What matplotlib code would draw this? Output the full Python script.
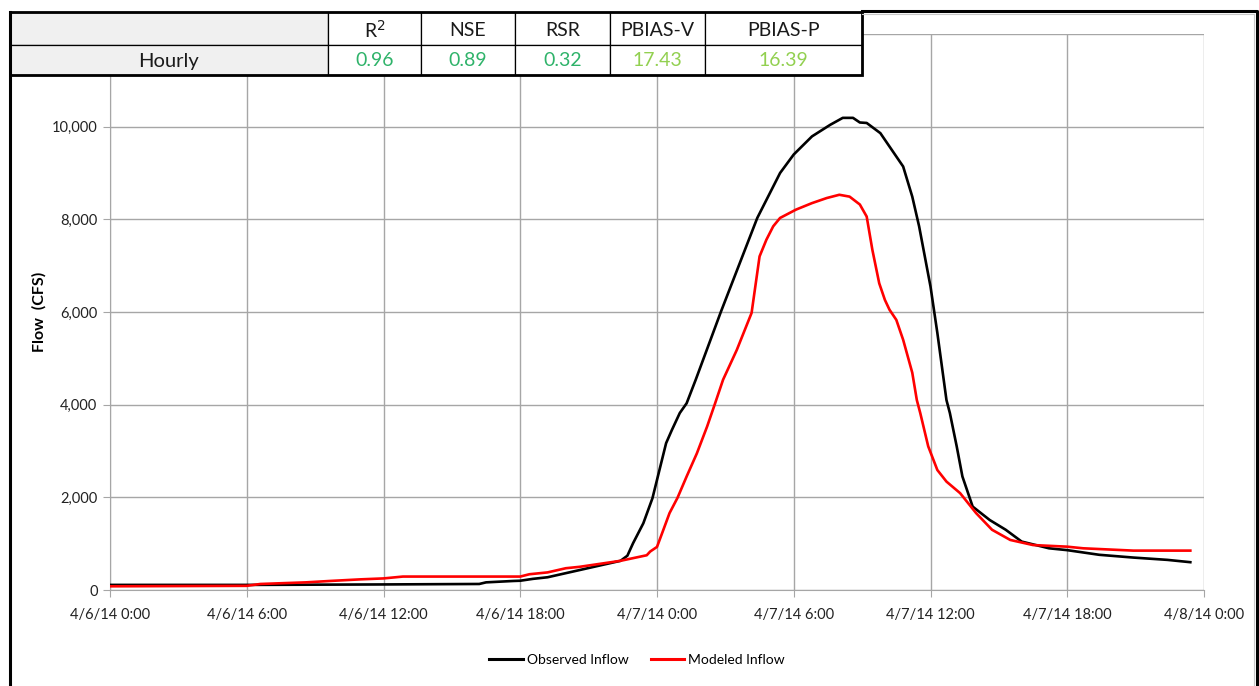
from datetime import datetime, timedelta

import matplotlib
matplotlib.use("Agg")
import matplotlib.pyplot as plt
import matplotlib.dates as mdates
from matplotlib.lines import Line2D
from matplotlib.patches import Rectangle


plt.rcParams["font.family"] = ["Lato", "DejaVu Sans"]

# --------------------------------------------------
# Hydrograph data (hours after 4/6/14 0:00, flow in cfs)
# --------------------------------------------------
obs_hours = [0, 6, 12, 16.2, 16.5, 17.7, 18.0, 18.55, 19.2, 20.6, 22.4,
             22.7, 22.95, 23.4, 23.8, 24.4, 24.65, 25.0, 25.3, 25.7, 26.8,
             28.4, 29.4, 30.0, 30.8, 31.6, 32.15, 32.6, 32.9, 33.2, 33.8,
             34.3, 34.8, 35.2, 35.5, 36.0, 36.3, 36.7, 36.85, 37.15, 37.4,
             37.85, 38.6, 39.3, 40.0, 41.2, 42.0, 43.4, 44.9, 46.4, 47.4]
obs_flow = [110, 110, 120, 130, 165, 195, 200, 240, 275, 430, 630,
            740, 1010, 1440, 1980, 3170, 3450, 3820, 4030, 4540, 6000,
            8030, 9000, 9400, 9790, 10040, 10190, 10190, 10090, 10080, 9860,
            9500, 9140, 8490, 7850, 6550, 5550, 4100, 3820, 3100, 2450,
            1800, 1510, 1300, 1045, 900, 860, 760, 700, 650, 600]

mod_hours = [0, 6, 6.6, 8.6, 9.65, 11.0, 12.0, 12.85, 18.0, 18.4, 19.2,
             20.0, 20.6, 22.4, 23.55, 23.7, 24.0, 24.25, 24.55, 24.9, 25.3,
             25.75, 26.2, 26.55, 26.9, 27.5, 28.15, 28.5, 28.8, 29.1, 29.4,
             30.1, 30.8, 31.45, 32.0, 32.45, 32.9, 33.2, 33.45, 33.75, 34.0,
             34.2, 34.5, 34.8, 35.2, 35.4, 35.55, 35.9, 36.3, 36.7, 37.3,
             38.0, 38.7, 39.5, 40.5, 42.0, 42.7, 44.9, 47.4]
mod_flow = [80, 90, 130, 165, 195, 230, 250, 290, 290, 340, 380,
            470, 500, 630, 750, 830, 930, 1260, 1660, 1990, 2450,
            2950, 3530, 4030, 4540, 5180, 5980, 7200, 7560, 7850, 8030,
            8210, 8350, 8460, 8530, 8490, 8320, 8060, 7340, 6620, 6260,
            6050, 5830, 5400, 4690, 4100, 3820, 3100, 2590, 2340, 2090,
            1660, 1300, 1080, 970, 935, 900, 850, 850]

start = datetime(2014, 4, 6)
obs_time = [start + timedelta(hours=h) for h in obs_hours]
mod_time = [start + timedelta(hours=h) for h in mod_hours]

# fit statistics shown in the table above the plot
stat_names = ["R$^2$", "NSE", "RSR", "PBIAS-V", "PBIAS-P"]
stat_values = ["0.96", "0.89", "0.32", "17.43", "16.39"]
stat_colors = ["#2fb36a", "#2fb36a", "#2fb36a", "#92d050", "#92d050"]
row_label = "Hourly"

W, H = 1259, 686
fig = plt.figure(figsize=(W / 100, H / 100), dpi=100)


def px_rect(x0, y0, x1, y1):
    """Figure-fraction box from pixel corners (y measured from top)."""
    return [x0 / W, 1 - y1 / H, (x1 - x0) / W, (y1 - y0) / H]


# --------------------------------------------------
# Main hydrograph axes
# --------------------------------------------------
ax = fig.add_axes(px_rect(110, 34, 1204, 590))
ax.plot(obs_time, obs_flow, color="black", lw=1.9, label="Observed Inflow",
        zorder=3, solid_joinstyle="round")
ax.plot(mod_time, mod_flow, color="#ff0000", lw=1.9, label="Modeled Inflow",
        zorder=3, solid_joinstyle="round")

ax.set_xlim(start, start + timedelta(hours=48))
ax.set_ylim(0, 12000)
ax.set_yticks(range(0, 12001, 2000))
ax.yaxis.set_major_formatter(lambda v, p: f"{int(v):,}")

ax.xaxis.set_major_locator(mdates.HourLocator(byhour=[0, 6, 12, 18]))


def date_label(v, p):
    d = mdates.num2date(v)
    return f"{d.month}/{d.day}/{d.year % 100} {d.hour}:00"


ax.xaxis.set_major_formatter(date_label)

grid_c = "#a6a6a6"
ax.grid(True, color=grid_c, lw=1.0)
for side in ["top", "right"]:
    ax.spines[side].set_visible(False)
for side in ["left", "bottom"]:
    ax.spines[side].set_color(grid_c)
ax.tick_params(axis="both", direction="out", length=5, color=grid_c,
               labelsize=10.5, labelcolor="#222222")
ax.tick_params(axis="x", pad=8)
ax.tick_params(axis="y", pad=4)
ax.set_ylabel("Flow  (CFS)", fontsize=11.5, fontweight="bold", labelpad=4)

leg = fig.legend(
    handles=[Line2D([], [], color="black", lw=2.2),
             Line2D([], [], color="#ff0000", lw=2.2)],
    labels=["Observed Inflow", "Modeled Inflow"],
    loc="center", bbox_to_anchor=(637 / W, 1 - 660 / H), ncol=2,
    frameon=False, fontsize=10, handlelength=2.4, handletextpad=0.3,
    columnspacing=1.6,
)

# --------------------------------------------------
# Statistics table drawn on an overlay axes
# --------------------------------------------------
tab = fig.add_axes(px_rect(10, 12, 862, 75), zorder=5)
tab.set_xlim(10, 862)
tab.set_ylim(75, 12)
tab.axis("off")

cols = [10, 328, 421, 515, 610, 705, 862]
rows = [12, 45, 75]

for r in range(2):
    for c in range(len(cols) - 1):
        face = "#f0f0f0" if c == 0 else "white"
        tab.add_patch(Rectangle((cols[c], rows[r]), cols[c + 1] - cols[c],
                                rows[r + 1] - rows[r], facecolor=face,
                                edgecolor="black", lw=0.9, clip_on=False))
tab.add_patch(Rectangle((cols[0], rows[0]), cols[-1] - cols[0],
                        rows[-1] - rows[0], facecolor="none",
                        edgecolor="black", lw=2.0, clip_on=False))

for i, name in enumerate(stat_names):
    xc = (cols[i + 1] + cols[i + 2]) / 2
    tab.text(xc, 30, name, ha="center", va="center", fontsize=14,
             color="#1a1a1a")
    tab.text(xc, 61, stat_values[i], ha="center", va="center",
             fontsize=14, color=stat_colors[i])
tab.text((cols[0] + cols[1]) / 2, 61, row_label, ha="center", va="center",
         fontsize=14.5, color="#1a1a1a")

# chart area frame
frame = fig.add_axes([0, 0, 1, 1], zorder=6)
frame.set_xlim(0, W)
frame.set_ylim(H, 0)
frame.axis("off")
frame.patch.set_alpha(0)
frame.plot([10, 10], [12, H], color="black", lw=2.2)
frame.plot([862, 1257, 1257], [11, 11, H], color="black", lw=2.2)
frame.plot([862, 1254, 1254], [13.5, 13.5, H], color="#c8c8c8", lw=0.8)

fig.savefig("out.png", dpi=100)
